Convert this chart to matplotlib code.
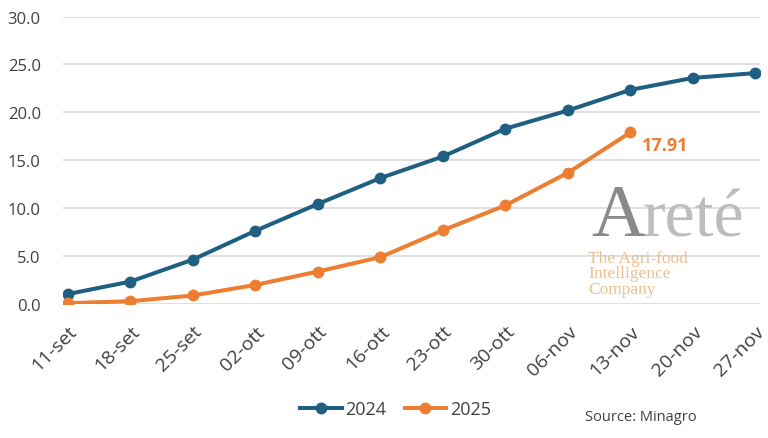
import matplotlib
matplotlib.use("Agg")
import matplotlib.pyplot as plt
from matplotlib.lines import Line2D

categories = ["11-set", "18-set", "25-set", "02-ott", "09-ott", "16-ott",
              "23-ott", "30-ott", "06-nov", "13-nov", "20-nov", "27-nov"]
s2024 = [1.05, 2.35, 4.65, 7.65, 10.45, 13.15, 15.4, 18.3, 20.2, 22.35, 23.6, 24.1]
s2025 = [0.1, 0.3, 0.9, 2.0, 3.4, 4.9, 7.7, 10.3, 13.7, 17.91]
yticks = [0, 5, 10, 15, 20, 25, 30]

c24 = "#1F5F82"
c25 = "#ED7D31"
txt = "#404040"

plt.rcParams['font.family'] = ['Open Sans', 'DejaVu Sans']

fig = plt.figure(figsize=(7.68, 4.39), dpi=100)
ax = fig.add_axes([0.082, 0.305, 0.908, 0.655])

x24 = list(range(len(s2024)))
x25 = list(range(len(s2025)))
ax.plot(x24, s2024, color=c24, lw=2.9, marker='o', ms=7.5, zorder=3, label="2024")
ax.plot(x25, s2025, color=c25, lw=2.9, marker='o', ms=7.5, zorder=3, label="2025")

ax.annotate(f"{s2025[-1]:.2f}", (x25[-1], s2025[-1]), xytext=(8, -9),
            textcoords='offset points', color=c25, fontsize=13, fontweight='bold',
            ha='left', va='center')

ax.set_ylim(0, 30)
ax.set_xlim(-0.08, len(categories) - 1 + 0.08)
ax.set_yticks(yticks)
ax.set_yticklabels([f"{v:.1f}" for v in yticks], fontsize=12, color=txt)
ax.set_xticks(range(len(categories)))
ax.set_xticklabels(categories, rotation=45, ha='right', rotation_mode='anchor',
                   fontsize=14, color=txt)
ax.tick_params(axis='both', length=0)
ax.tick_params(axis='x', pad=13)
ax.tick_params(axis='y', pad=16)
ax.grid(axis='y', color='#D9D9D9', lw=1.2)
ax.set_axisbelow(True)
for s in ax.spines.values():
    s.set_visible(False)

# watermark
serif = ['Liberation Serif', 'DejaVu Serif']
tA = fig.text(0.770, 0.462, "A", family=serif, fontsize=54, color='#8A8A8A',
              ha='left', va='baseline')
fig.canvas.draw()
bb = tA.get_window_extent()
fig.text(bb.x1 / fig.bbox.width - 0.004, 0.462, "reté", family=serif, fontsize=49,
         color='#BDBDBD', ha='left', va='baseline')
fig.text(0.766, 0.322, "The Agri-food\nIntelligence\nCompany",
         family=serif, fontsize=12.5, color='#EBC08E', ha='left', va='bottom',
         linespacing=0.95)

handles = [Line2D([], [], color=c24, lw=2.9, marker='o', ms=7.5),
           Line2D([], [], color=c25, lw=2.9, marker='o', ms=7.5)]
fig.legend(handles, ["2024", "2025"], loc='center', bbox_to_anchor=(0.515, 0.065),
           ncol=2, frameon=False, fontsize=13, handlelength=2.3,
           handletextpad=0.2, columnspacing=1.0, labelcolor=txt)
fig.text(0.762, 0.05, "Source: Minagro", fontsize=10.5, color=txt,
         ha='left', va='center')

fig.savefig("out.png", dpi=100)
